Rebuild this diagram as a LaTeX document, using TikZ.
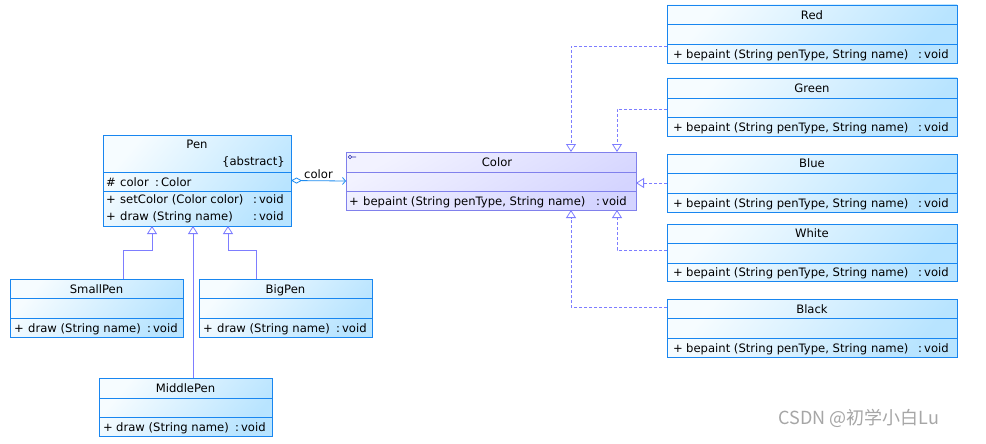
\documentclass[tikz,border=0pt]{standalone}
\usepackage{fontspec}
\setmainfont{DejaVu Sans}
\newfontfamily\cjkfont{Noto Sans CJK SC}
\usetikzlibrary{arrows.meta,fit}

% palette
\definecolor{classedge}{RGB}{24,134,240}
\definecolor{classtop}{RGB}{246,252,255}
\definecolor{classbot}{RGB}{184,228,255}
\definecolor{ifaceedge}{RGB}{128,128,236}
\definecolor{ifacetop}{RGB}{242,242,255}
\definecolor{ifacebot}{RGB}{212,212,255}
\definecolor{linkcol}{RGB}{125,125,255}
\definecolor{assoccol}{RGB}{30,140,240}

\newcommand\umlfont{\fontsize{11.6}{13.5}\selectfont}

% class box: name, left, top, right, bottom, first divider, second divider, style
\newcommand\umlclass[8]{%
  \node[#8, fit={(#2,#3)(#4,#5)}] (#1) {};
  \draw[#8 line] (#2,#6) -- (#4,#6) (#2,#7) -- (#4,#7);%
}

\tikzset{
  classbox/.style={draw=classedge, line width=0.9pt, inner sep=0pt, outer sep=0pt,
    top color=classtop, bottom color=classbot, shading angle=50},
  classbox line/.style={draw=classedge, line width=0.9pt},
  ifacebox/.style={draw=ifaceedge, line width=0.9pt, inner sep=0pt, outer sep=0pt,
    top color=ifacetop, bottom color=ifacebot, shading angle=30},
  ifacebox line/.style={draw=ifaceedge, line width=0.9pt},
  title/.style={anchor=base, inner sep=0pt, font=\umlfont},
  member/.style={anchor=base west, inner sep=0pt, font=\umlfont},
  inherit/.style={draw=linkcol, line width=0.8pt,
    -{Triangle[open, length=8pt, width=10pt]}},
  realize/.style={inherit, dash pattern=on 3pt off 2pt},
  assoc/.style={draw=assoccol, line width=0.8pt,
    {Diamond[open, length=11pt, width=6pt]}-{Straight Barb[length=3pt, width=7pt]}},
}

\begin{document}
\begin{tikzpicture}[x=1pt, y=-1pt]
  \fill[white] (0,0) rectangle (986,444);
  \useasboundingbox (0,0) rectangle (986,444);

  % ---------- abstract class Pen ----------
  \umlclass{pen}{103}{135}{291}{226}{172}{191}{classbox}
  \node[title] (pen-name) at (197,148.5) {Pen};
  \node[title, anchor=base east] (pen-abs) at (285,165.5) {\{abstract\}};
  \node[member] (pen-attr) at (106,186)
    {\makebox[14pt][l]{\#}\makebox[35pt][l]{color}:\hspace{2pt}Color};
  \node[member] (pen-op1) at (106,203.5)
    {\makebox[14pt][l]{+}\makebox[133pt][l]{setColor (Color color)}:\hspace{2pt}void};
  \node[member] (pen-op2) at (106,220.5)
    {\makebox[14pt][l]{+}\makebox[133pt][l]{draw (String name)}:\hspace{2pt}void};

  % ---------- pen subclasses ----------
  \umlclass{smallpen}{10}{279}{183}{337}{298}{318}{classbox}
  \node[title] (smallpen-name) at (96.5,293.5) {SmallPen};
  \node[member] (smallpen-op) at (14,332)
    {\makebox[14pt][l]{+}\makebox[119pt][l]{draw (String name)}:\hspace{2pt}void};

  \umlclass{bigpen}{199}{279}{372}{337}{298}{318}{classbox}
  \node[title] (bigpen-name) at (285.5,293.5) {BigPen};
  \node[member] (bigpen-op) at (203,332)
    {\makebox[14pt][l]{+}\makebox[119pt][l]{draw (String name)}:\hspace{2pt}void};

  \umlclass{middlepen}{99}{378}{272}{436}{398}{417}{classbox}
  \node[title] (middlepen-name) at (185.5,392.5) {MiddlePen};
  \node[member] (middlepen-op) at (103,431)
    {\makebox[13pt][l]{+}\makebox[119pt][l]{draw (String name)}:\hspace{2pt}void};

  % ---------- interface Color ----------
  \umlclass{color}{346}{152}{636}{210}{172}{191}{ifacebox}
  \draw[draw={rgb,255:red,40;green,40;blue,170}, line width=0.6pt]
    (350,157) circle (1.7) (351.7,157) -- (356,157);
  \node[title] (color-name) at (497,166.5) {Color};
  \node[member] (color-op) at (349,205)
    {\makebox[14pt][l]{+}\makebox[233pt][l]{bepaint (String penType, String name)}:\hspace{2pt}void};

  % ---------- concrete colours ----------
  \umlclass{red}{667}{5}{957}{63}{24}{44}{classbox}
  \node[title] (red-name) at (812,19.5) {Red};
  \node[member] (red-op) at (673,58.5)
    {\makebox[13pt][l]{+}\makebox[232pt][l]{bepaint (String penType, String name)}:\hspace{2pt}void};

  \umlclass{green}{667}{78}{957}{136}{98}{117}{classbox}
  \node[title] (green-name) at (812,92.5) {Green};
  \node[member] (green-op) at (673,131.5)
    {\makebox[13pt][l]{+}\makebox[232pt][l]{bepaint (String penType, String name)}:\hspace{2pt}void};

  \umlclass{blue}{667}{154}{957}{212}{173}{193}{classbox}
  \node[title] (blue-name) at (812,167.5) {Blue};
  \node[member] (blue-op) at (673,207)
    {\makebox[13pt][l]{+}\makebox[232pt][l]{bepaint (String penType, String name)}:\hspace{2pt}void};

  \umlclass{white}{667}{224}{957}{281}{243}{263}{classbox}
  \node[title] (white-name) at (812,237.5) {White};
  \node[member] (white-op) at (673,276.5)
    {\makebox[13pt][l]{+}\makebox[232pt][l]{bepaint (String penType, String name)}:\hspace{2pt}void};

  \umlclass{black}{667}{299}{957}{357}{318}{338}{classbox}
  \node[title] (black-name) at (812,313.5) {Black};
  \node[member] (black-op) at (673,352.5)
    {\makebox[13pt][l]{+}\makebox[232pt][l]{bepaint (String penType, String name)}:\hspace{2pt}void};

  % ---------- generalisation of Pen ----------
  \draw[inherit] ([xshift=26.5pt]smallpen.north) -- ++(0,-29) -| ([xshift=-45pt]pen.south);
  \draw[inherit] ([xshift=7.5pt]middlepen.north) -- ([xshift=-4pt]pen.south);
  \draw[inherit] ([xshift=-29.5pt]bigpen.north) -- ++(0,-29) -| ([xshift=31pt]pen.south);

  % ---------- aggregation Pen -> Color ----------
  \draw[assoc] (pen.east) -- (color.west)
    node[midway, above, font=\umlfont, inner sep=1.5pt] (assoc-label) {color};

  % ---------- realisation of Color ----------
  \draw[realize] ([yshift=-12pt]red.west) -| ([xshift=80pt]color.north);
  \draw[realize] ([yshift=-2pt]green.west) -| ([xshift=126pt]color.north);
  \draw[realize] (blue.west) -- (blue.west -| color.east);
  \draw[realize] ([yshift=2.5pt]white.west) -| ([xshift=126pt]color.south);
  \draw[realize] ([yshift=21pt]black.west) -| ([xshift=80pt]color.south);

  % ---------- watermark ----------
  \node[font=\cjkfont\fontsize{18}{20}\selectfont, text=black!35, inner sep=0pt]
    (mark) at (859,418) {CSDN @初学小白Lu};
\end{tikzpicture}
\end{document}
